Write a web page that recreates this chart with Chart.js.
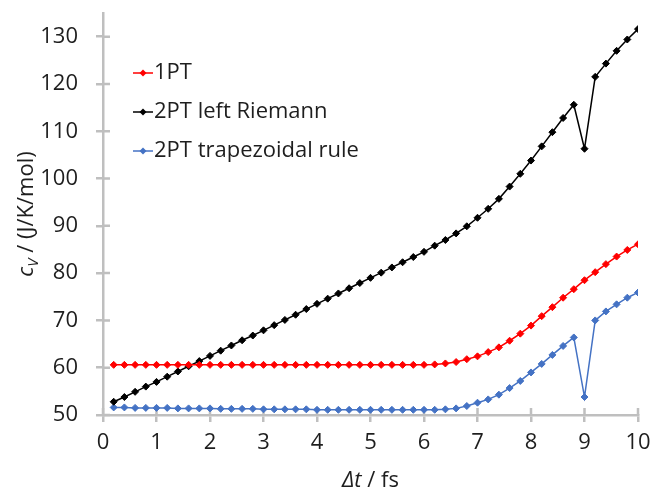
<!DOCTYPE html>
<html>
<head>
<meta charset="utf-8">
<script src="https://cdn.jsdelivr.net/npm/chart.js@4/dist/chart.umd.min.js"></script>
<style>
  html, body { margin: 0; padding: 0; background: #fff; }
  #wrap { width: 653px; height: 492px; }
</style>
</head>
<body>
<div id="wrap"><canvas id="chart"></canvas></div>
<script>
// time step (fs)
const dt = [0.2, 0.4, 0.6, 0.8, 1.0, 1.2, 1.4, 1.6, 1.8, 2.0,
  2.2, 2.4, 2.6, 2.8, 3.0, 3.2, 3.4, 3.6, 3.8, 4.0,
  4.2, 4.4, 4.6, 4.8, 5.0, 5.2, 5.4, 5.6, 5.8, 6.0,
  6.2, 6.4, 6.6, 6.8, 7.0, 7.2, 7.4, 7.6, 7.8, 8.0,
  8.2, 8.4, 8.6, 8.8, 9.0, 9.2, 9.4, 9.6, 9.8, 10.0];

// cV values (J/K/mol)
const onePT = [60.6, 60.6, 60.6, 60.6, 60.6, 60.6, 60.6, 60.6, 60.6, 60.6,
  60.6, 60.6, 60.6, 60.6, 60.6, 60.6, 60.6, 60.6, 60.6, 60.6,
  60.6, 60.6, 60.6, 60.6, 60.6, 60.6, 60.6, 60.6, 60.6, 60.6,
  60.7, 60.9, 61.2, 61.8, 62.4, 63.3, 64.3, 65.7, 67.2, 68.9,
  70.9, 72.8, 74.8, 76.6, 78.5, 80.2, 81.9, 83.5, 84.9, 86.1];

const twoPTLeft = [52.8, 53.8, 54.9, 56.0, 57.0, 58.1, 59.2, 60.3, 61.4, 62.5,
  63.6, 64.7, 65.8, 66.8, 67.9, 69.0, 70.1, 71.2, 72.4, 73.5,
  74.6, 75.7, 76.8, 77.9, 79.0, 80.1, 81.2, 82.3, 83.4, 84.5,
  85.8, 87.0, 88.4, 89.9, 91.7, 93.6, 95.7, 98.3, 101.0, 103.8,
  106.8, 109.8, 112.8, 115.6, 106.3, 121.5, 124.3, 127.0, 129.4, 131.6];

const twoPTTrap = [51.6, 51.6, 51.5, 51.5, 51.5, 51.5, 51.4, 51.4, 51.4, 51.4,
  51.3, 51.3, 51.3, 51.3, 51.2, 51.2, 51.2, 51.2, 51.2, 51.1,
  51.1, 51.1, 51.1, 51.1, 51.1, 51.1, 51.1, 51.1, 51.1, 51.1,
  51.1, 51.2, 51.4, 51.9, 52.6, 53.3, 54.3, 55.7, 57.2, 59.0,
  60.8, 62.7, 64.6, 66.4, 53.8, 70.0, 71.9, 73.4, 74.8, 75.9];

const seriesNames = ["1PT", "2PT left Riemann", "2PT trapezoidal rule"];
const seriesColors = ["#ff0000", "#000000", "#4472c4"];

// y tick labels (axis runs a bit past the last one)
const yTicks = [50, 60, 70, 80, 90, 100, 110, 120, 130];

const FONT = "'Open Sans', sans-serif";
const TXT = "#1e1e1e";
const AXIS = "#bfbfbf";

function pts(ys) {
  return dt.map((x, i) => ({ x: x, y: ys[i] }));
}

function makeSet(i, ys) {
  return {
    label: seriesNames[i],
    data: pts(ys),
    borderColor: seriesColors[i],
    backgroundColor: seriesColors[i],
    borderWidth: 1.5,
    pointStyle: "rectRot",
    pointRadius: 3.5,
    pointBorderWidth: 1,
    tension: 0
  };
}

// ticks on the inside of the axes too (Excel "cross" marks)
const crossTicks = {
  id: "crossTicks",
  beforeDatasetsDraw(chart) {
    const ctx = chart.ctx, ca = chart.chartArea;
    const xs = chart.scales.x, ys = chart.scales.y;
    ctx.save();
    ctx.strokeStyle = AXIS;
    ctx.lineWidth = 2.5;
    ctx.beginPath();
    xs.ticks.forEach((t, i) => {
      const px = xs.getPixelForTick(i);
      ctx.moveTo(px, ca.bottom);
      ctx.lineTo(px, ca.bottom - 7);
    });
    ys.ticks.forEach((t, i) => {
      const py = ys.getPixelForTick(i);
      ctx.moveTo(ca.left, py);
      ctx.lineTo(ca.left + 7, py);
    });
    ctx.stroke();
    ctx.restore();
  }
};

// axis titles with italic symbols and subscript
const axisTitles = {
  id: "axisTitles",
  afterDraw(chart) {
    const ctx = chart.ctx, ca = chart.chartArea;
    ctx.save();
    ctx.fillStyle = TXT;
    ctx.textBaseline = "alphabetic";

    // x title
    const a = "\u0394t", b = " / fs";
    ctx.font = "italic 22px " + FONT;
    const wa = ctx.measureText(a).width;
    ctx.font = "22px " + FONT;
    const wb = ctx.measureText(b).width;
    let x0 = (ca.left + ca.right) / 2 - (wa + wb) / 2;
    const yb = 487;
    ctx.font = "italic 22px " + FONT;
    ctx.fillText(a, x0, yb);
    ctx.font = "22px " + FONT;
    ctx.fillText(b, x0 + wa, yb);

    // y title
    ctx.translate(33, (ca.top + ca.bottom) / 2);
    ctx.rotate(-Math.PI / 2);
    const c = "c", v = "V", rest = " / (J/K/mol)";
    ctx.font = "italic 22px " + FONT;
    const wc = ctx.measureText(c).width;
    ctx.font = "italic 15px " + FONT;
    const wv = ctx.measureText(v).width;
    ctx.font = "22px " + FONT;
    const wr = ctx.measureText(rest).width;
    let s = -(wc + wv + wr) / 2;
    ctx.font = "italic 22px " + FONT;
    ctx.fillText(c, s, 0);
    ctx.font = "italic 15px " + FONT;
    ctx.fillText(v, s + wc, 5);
    ctx.font = "22px " + FONT;
    ctx.fillText(rest, s + wc + wv, 0);
    ctx.restore();
  }
};

// legend inside the plot area, line + diamond sample
const innerLegend = {
  id: "innerLegend",
  afterDraw(chart) {
    const ctx = chart.ctx, ca = chart.chartArea;
    ctx.save();
    ctx.font = "22px " + FONT;
    ctx.textBaseline = "middle";
    chart.data.datasets.forEach((ds, i) => {
      const y = ca.top + 60 + i * 39;
      const x = ca.left + 30;
      ctx.strokeStyle = ds.borderColor;
      ctx.lineWidth = 1.5;
      ctx.beginPath();
      ctx.moveTo(x, y);
      ctx.lineTo(x + 20, y);
      ctx.stroke();
      ctx.fillStyle = ds.borderColor;
      ctx.beginPath();
      ctx.moveTo(x + 10, y - 3.5);
      ctx.lineTo(x + 13.5, y);
      ctx.lineTo(x + 10, y + 3.5);
      ctx.lineTo(x + 6.5, y);
      ctx.closePath();
      ctx.fill();
      ctx.fillStyle = TXT;
      ctx.fillText(ds.label, x + 21, y);
    });
    ctx.restore();
  }
};

new Chart(document.getElementById("chart"), {
  type: "line",
  data: {
    datasets: [
      makeSet(0, onePT),
      makeSet(1, twoPTLeft),
      makeSet(2, twoPTTrap)
    ]
  },
  options: {
    responsive: true,
    maintainAspectRatio: false,
    animation: false,
    layout: { padding: { top: 13, right: 15, left: 0, bottom: 0 } },
    plugins: {
      legend: { display: false },
      tooltip: { enabled: false }
    },
    scales: {
      x: {
        type: "linear",
        min: 0,
        max: 10,
        afterFit(scale) {
          scale.height = 77;
          scale.paddingLeft = 0;
          scale.paddingRight = 0;
        },
        ticks: {
          stepSize: 1,
          color: TXT,
          font: { family: FONT, size: 22 },
          padding: 8,
          maxRotation: 0
        },
        grid: {
          drawOnChartArea: false,
          drawTicks: true,
          tickLength: 7,
          color: AXIS,
          lineWidth: 2.5
        },
        border: { color: AXIS, width: 2.5 }
      },
      y: {
        min: 50,
        max: 135,
        afterBuildTicks(scale) {
          scale.ticks = yTicks.map(v => ({ value: v }));
        },
        afterFit(scale) {
          scale.width = 103;
          scale.paddingTop = 0;
          scale.paddingBottom = 0;
        },
        ticks: {
          color: TXT,
          font: { family: FONT, size: 22 },
          padding: 18
        },
        grid: {
          drawOnChartArea: false,
          drawTicks: true,
          tickLength: 7,
          color: AXIS,
          lineWidth: 2.5
        },
        border: { color: AXIS, width: 2.5 }
      }
    }
  },
  plugins: [crossTicks, axisTitles, innerLegend]
});
</script>
</body>
</html>
